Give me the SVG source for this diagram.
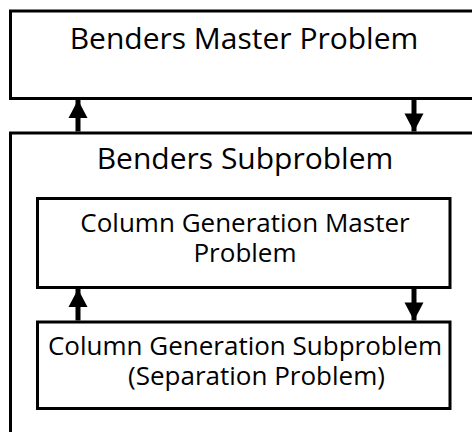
<svg xmlns="http://www.w3.org/2000/svg" width="472" height="432" viewBox="0 0 472 432">
  <defs>
    <style>
      .box { fill: #ffffff; stroke: #000000; stroke-width: 3; }
      .lbl { font-family: "Open Sans", "Noto Sans", "DejaVu Sans", sans-serif; fill: #000000; text-anchor: middle; }
      .big { font-size: 30px; }
      .small { font-size: 26px; }
      .link { stroke: #000000; stroke-width: 5; fill: none; marker-end: url(#head); }
    </style>
    <marker id="head" markerUnits="userSpaceOnUse" markerWidth="20" markerHeight="20" viewBox="0 0 18 20" refX="18" refY="10" orient="auto">
      <path d="M0,0.5 L18,10 L0,19.5 Z" fill="#000000"/>
    </marker>
  </defs>

  <rect x="0" y="0" width="472" height="432" fill="#ffffff"/>

  <g id="benders-master">
    <rect class="box" x="10.5" y="11" width="475" height="87.5"/>
    <text class="lbl big" x="244" y="48.5">Benders Master Problem</text>
  </g>

  <g id="benders-sub">
    <rect class="box" x="10.5" y="133" width="475" height="320"/>
    <text class="lbl big" x="245" y="168.5">Benders Subproblem</text>
  </g>

  <g id="cg-master">
    <rect class="box" x="37.5" y="198.5" width="412.5" height="89"/>
    <text class="lbl small" x="245" y="232">Column Generation Master</text>
    <text class="lbl small" x="245" y="262">Problem</text>
  </g>

  <g id="cg-sub">
    <rect class="box" x="37.5" y="322" width="412.5" height="86.5"/>
    <text class="lbl small" x="245" y="355">Column Generation Subproblem</text>
    <text class="lbl small" x="256.5" y="385">(Separation Problem)</text>
  </g>

  <g id="connectors">
    <line class="link" x1="78" y1="131.5" x2="78" y2="100"/>
    <line class="link" x1="414" y1="100" x2="414" y2="131.5"/>
    <line class="link" x1="78" y1="320.5" x2="78" y2="289"/>
    <line class="link" x1="414" y1="289" x2="414" y2="320.5"/>
  </g>
</svg>
